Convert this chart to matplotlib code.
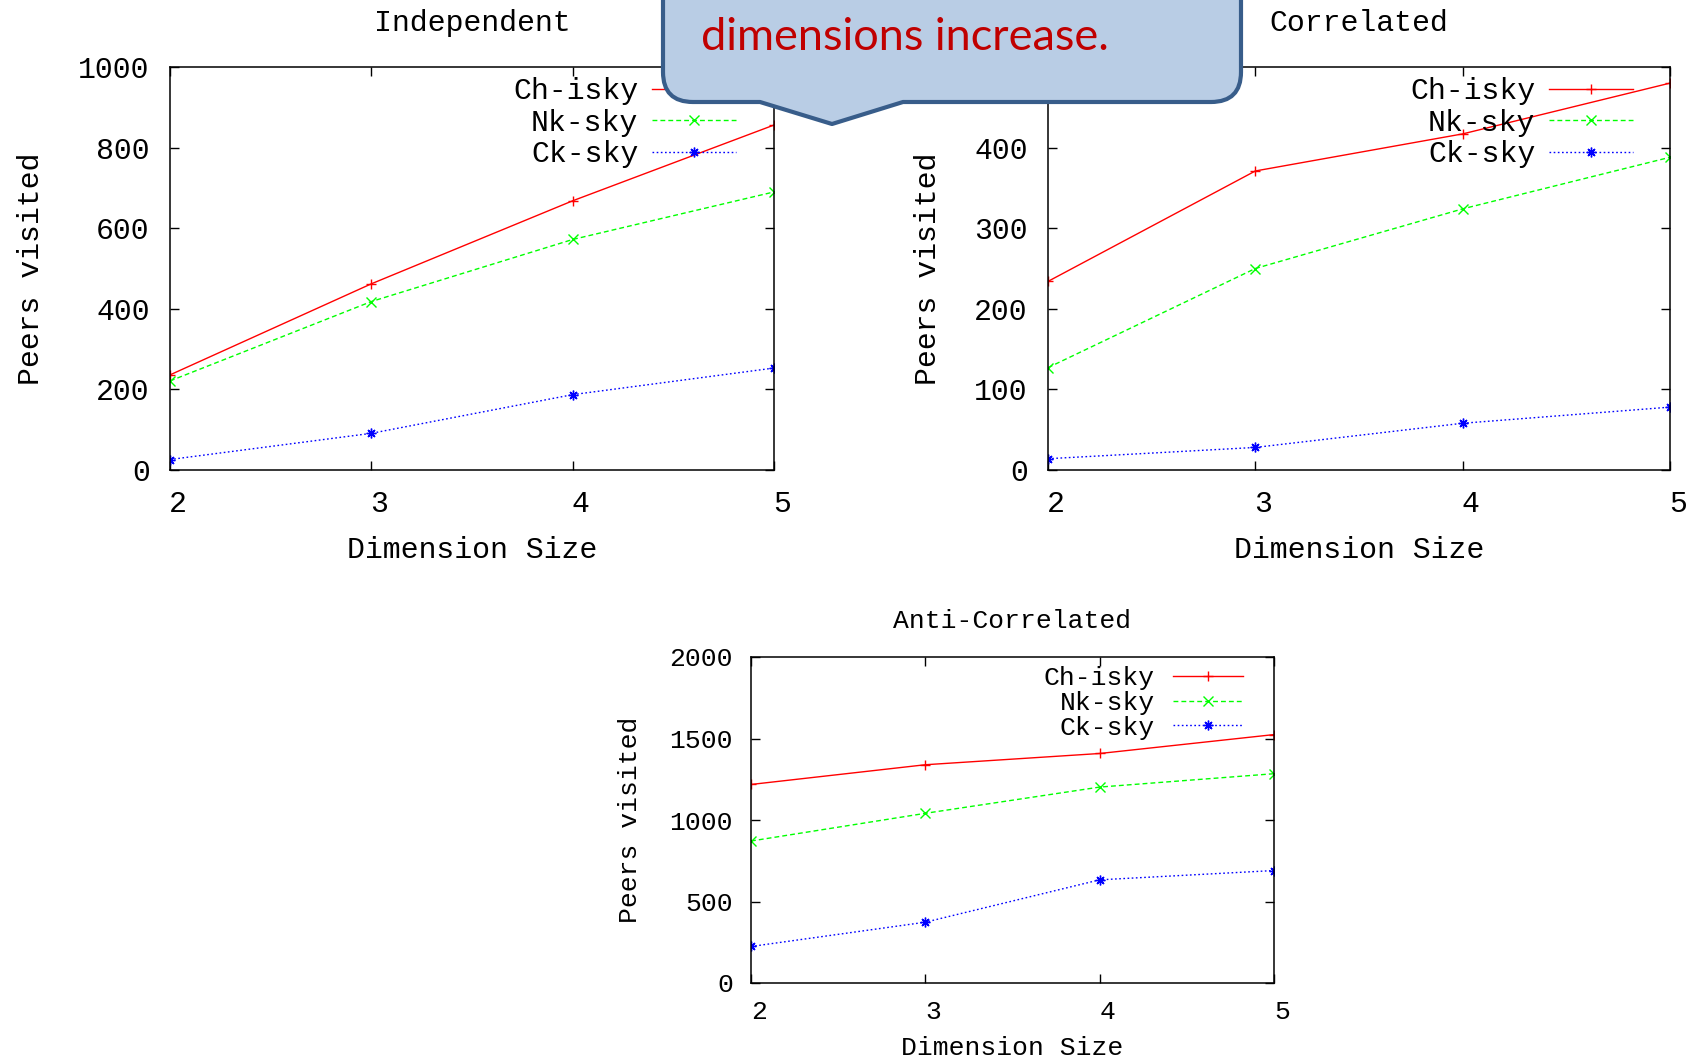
import matplotlib
matplotlib.use('Agg')
import matplotlib.pyplot as plt
from matplotlib.path import Path
from matplotlib.patches import PathPatch
from matplotlib.transforms import ScaledTranslation

W, H = 1690, 1058

dims = [2, 3, 4, 5]
series_names = ['Ch-isky', 'Nk-sky', 'Ck-sky']

independent_ch = [236, 462, 668, 856]
independent_nk = [221, 418, 572, 690]
independent_ck = [26, 91, 187, 253]

correlated_ch = [234, 371, 417, 480]
correlated_nk = [127, 250, 324, 388]
correlated_ck = [14, 28, 58, 78]

anti_ch = [1218, 1339, 1408, 1524]
anti_nk = [871, 1041, 1202, 1284]
anti_ck = [224, 373, 633, 690]

callout_text = 'dimensions increase.'

styles = [
    dict(color='#ff0000', linestyle='-', marker='+'),
    dict(color='#00ff00', linestyle=(0, (3.5, 2.2)), marker='x'),
    dict(color='#0000ff', linestyle=(0, (1.2, 1.8)), marker=(8, 2, 0)),
]

plt.rcParams['font.family'] = ['Liberation Mono', 'DejaVu Sans']


def px_rect(left, top, right, bottom):
    # pixel box (y down) -> figure fraction [l, b, w, h]
    return [left / W, 1 - bottom / H, (right - left) / W, (bottom - top) / H]


def plot_panel(fig, rect, title, values, ymax, ystep, fs, cfg):
    ax = fig.add_axes(rect)
    for vals, name, st in zip(values, series_names, styles):
        ax.plot(dims, vals, label=name, lw=1.0, ms=7, mew=1.0, **st)
    ax.set_xlim(2, 5)
    ax.set_ylim(0, ymax)
    ax.set_xticks(dims)
    ax.set_yticks(range(0, ymax + 1, ystep))
    ax.tick_params(direction='in', top=True, right=True, length=6.5, width=1,
                   labelsize=fs)
    ax.tick_params(axis='x', pad=cfg['xpad'])
    ax.tick_params(axis='y', pad=cfg['ypad'])
    for s in ax.spines.values():
        s.set_linewidth(1.1)
    ax.set_title(title, fontsize=fs, pad=cfg['title_pad'])
    ax.set_xlabel('Dimension Size', fontsize=fs)
    ax.set_ylabel('Peers visited', fontsize=fs)
    ax.xaxis.set_label_coords(0.5, cfg['xlab_y'])
    ax.yaxis.set_label_coords(cfg['ylab_x'], 0.5)
    ax.legend(loc='upper right', bbox_to_anchor=cfg['leg_anchor'], frameon=False,
              markerfirst=False, numpoints=1, fontsize=fs, borderpad=0,
              borderaxespad=0, handlelength=cfg['handlelength'],
              handletextpad=cfg['handletextpad'], labelspacing=cfg['labelspacing'])
    # gnuplot puts the x tick labels a little right of the tick
    shift = ScaledTranslation(8 / 100, 0, fig.dpi_scale_trans)
    for lab in ax.get_xticklabels():
        lab.set_transform(lab.get_transform() + shift)
    return ax


fig = plt.figure(figsize=(W / 100, H / 100), dpi=100)

top_cfg = dict(xpad=14.7, ypad=14.5, title_pad=26, xlab_y=-0.164, handlelength=2.8,
               handletextpad=0.47, labelspacing=0.11)

cfg1 = dict(top_cfg, ylab_x=-0.207, leg_anchor=(0.937, 0.974))
plot_panel(fig, px_rect(170, 67, 774, 470), 'Independent',
           [independent_ch, independent_nk, independent_ck], 1000, 200, 21.5, cfg1)

cfg2 = dict(top_cfg, ylab_x=-0.170, leg_anchor=(0.9405, 0.974))
plot_panel(fig, px_rect(1048, 67, 1670, 470), 'Correlated',
           [correlated_ch, correlated_nk, correlated_ck], 500, 100, 21.5, cfg2)

cfg3 = dict(xpad=12.4, ypad=13, title_pad=21, xlab_y=-0.163, ylab_x=-0.208,
            leg_anchor=(0.9407, 0.971), handlelength=2.65, handletextpad=0.68,
            labelspacing=0.02)
plot_panel(fig, px_rect(751, 657, 1274, 983), 'Anti-Correlated',
           [anti_ch, anti_nk, anti_ck], 2000, 500, 19, cfg3)

# speech-bubble callout over the top of the figure
left, right, bottom, top, r = 663, 1241, 102, -60, 30
tip, base_l, base_r = (832, 124), 760, 903
verts = [(left, top), (left, bottom - r), (left, bottom), (left + r, bottom),
         (base_l, bottom), tip, (base_r, bottom), (right - r, bottom),
         (right, bottom), (right, bottom - r), (right, top), (left, top)]
codes = [Path.MOVETO, Path.LINETO, Path.CURVE3, Path.CURVE3, Path.LINETO,
         Path.LINETO, Path.LINETO, Path.LINETO, Path.CURVE3, Path.CURVE3,
         Path.LINETO, Path.CLOSEPOLY]
verts = [(x / W, 1 - y / H) for x, y in verts]
bubble = PathPatch(Path(verts, codes), facecolor='#b9cde5', edgecolor='#385d8a',
                   lw=3.0, joinstyle='round', transform=fig.transFigure, zorder=5)
fig.add_artist(bubble)
fig.text(701 / W, 1 - 50 / H, callout_text, color='#c00000', fontsize=32.5,
         family=['Lato', 'DejaVu Sans'], va='baseline', ha='left', zorder=6)

fig.savefig('out.png', dpi=100)
